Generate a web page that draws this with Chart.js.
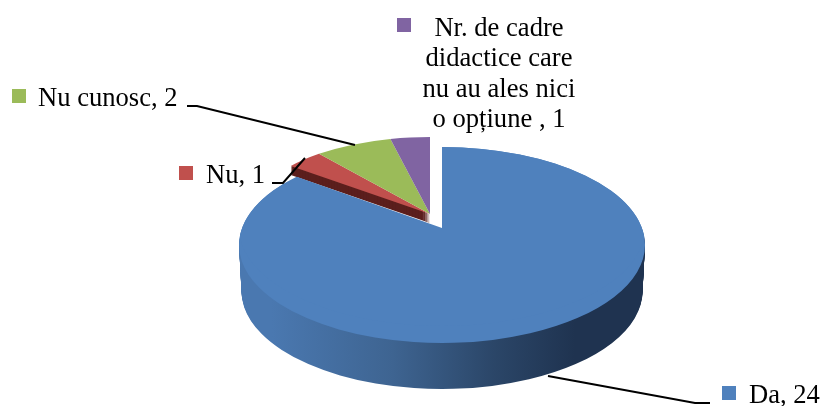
<!DOCTYPE html>
<html>
<head>
<meta charset="utf-8">
<script src="https://cdn.jsdelivr.net/npm/chart.js@4"></script>
<style>
    html, body {margin: 0; padding: 0; background: #fff;}
    canvas {display: block;}
</style>
</head>
<body>
<canvas id="pie" width="821" height="406"></canvas>
<script>
const categories = ['Da', 'Nu', 'Nu cunosc', 'Nr. de cadre didactice care nu au ales nici o opțiune '];
const values = [24, 1, 2, 1];
const colors = ['#4f81bd', '#c0504d', '#9bbb59', '#8064a2'];
const redSide = '#5c1f1d';

// where each label goes, the text comes from categories/values
const labelBoxes = [
    {key: [722, 386], x: 749, y: 403, lines: null},
    {key: [179, 166], x: 206, y: 183, lines: null},
    {key: [12, 89], x: 38, y: 106, lines: null},
    {key: [397, 18], x: 499, y: 36, center: true,
        lines: ['Nr. de cadre', 'didactice care', 'nu au ales nici', 'o opțiune , 1']}
];
const leaders = [
    [[548, 376], [695, 403], [710, 403]],
    [[305, 158], [283, 183], [272, 183]],
    [[355, 145], [197, 106], [187, 106]]
];

// the picture has perspective: the slice tip is not the middle of the ellipse
const blueFace = {x: 442, y: 245, up: 98, down: 98, sx: 1};
const blueTip = {x: 442, y: 228, up: 90, down: 98, sx: 1};
const restFace = {x: 430, y: 214, up: 77, down: 77, sx: 0.877};
const depth = 46;
const restDepth = 9;

function drawArc(chart, arc, face, dy, fill, shrink) {
    const ctx = chart.ctx;
    const R = arc.outerRadius;
    const clone = Object.create(arc, {
        options: {value: Object.assign({}, arc.options, {backgroundColor: fill, borderWidth: 0})}
    });
    [face.up, face.down].forEach(function (ry, i) {
        ctx.save();
        ctx.beginPath();
        ctx.rect(0, i === 0 ? -1000 : face.y + dy, chart.width, i === 0 ? 1000 + face.y + dy : 1000);
        ctx.clip();
        ctx.translate(face.x, face.y + dy);
        ctx.scale(face.sx * shrink, ry / R);
        ctx.translate(-arc.x, -arc.y);
        clone.draw(ctx);
        ctx.restore();
    });
}

const pie3d = {
    id: 'pie3d',
    beforeDatasetsDraw(chart) {
        const ctx = chart.ctx;
        const arcs = chart.getDatasetMeta(0).data;
        const R = arcs[0].outerRadius;

        for (let d = restDepth; d > 0; d--) {
            drawArc(chart, arcs[1], restFace, d, redSide, 1);
        }

        const grad = ctx.createLinearGradient(239, 0, 646, 0);
        grad.addColorStop(0, '#4a78b0');
        grad.addColorStop(0.3, '#3e6491');
        grad.addColorStop(0.55, '#2b4668');
        grad.addColorStop(0.75, '#1f3350');
        grad.addColorStop(1, '#1f3350');
        for (let d = depth; d > 0; d--) {
            drawArc(chart, arcs[0], blueFace, d, grad, 1 - 0.012 * d / depth);
        }

        drawArc(chart, arcs[0], blueFace, 0, colors[0], 1);
        // fills the part between the real tip and the middle of the ellipse
        ctx.save();
        ctx.beginPath();
        ctx.ellipse(blueFace.x, blueFace.y, R, blueFace.up, 0, 0, Math.PI * 2);
        ctx.clip();
        drawArc(chart, arcs[0], blueTip, 0, colors[0], 1);
        ctx.restore();

        for (let i = 1; i < arcs.length; i++) {
            drawArc(chart, arcs[i], restFace, 0, colors[i], 1);
        }
        return false;
    },
    afterDraw(chart) {
        const ctx = chart.ctx;
        ctx.save();
        ctx.strokeStyle = '#000';
        ctx.lineWidth = 2;
        leaders.forEach(function (pts) {
            ctx.beginPath();
            pts.forEach(function (p, i) {
                if (i === 0) ctx.moveTo(p[0], p[1]);
                else ctx.lineTo(p[0], p[1]);
            });
            ctx.stroke();
        });

        ctx.font = '26.6px "Liberation Serif"';
        ctx.textBaseline = 'alphabetic';
        labelBoxes.forEach(function (box, i) {
            ctx.fillStyle = colors[i];
            ctx.fillRect(box.key[0], box.key[1], 14, 14);
            ctx.fillStyle = '#000';
            ctx.textAlign = box.center ? 'center' : 'left';
            const lines = box.lines || [categories[i] + ', ' + values[i]];
            lines.forEach(function (line, n) {
                ctx.fillText(line, box.x, box.y + n * 30.3);
            });
        });
        ctx.restore();
    }
};

new Chart(document.getElementById('pie'), {
    type: 'pie',
    data: {
        labels: categories,
        datasets: [{
            data: values,
            backgroundColor: colors,
            borderWidth: 0
        }]
    },
    options: {
        responsive: false,
        animation: false,
        plugins: {
            legend: {display: false},
            tooltip: {enabled: false}
        }
    },
    plugins: [pie3d]
});
</script>
</body>
</html>
